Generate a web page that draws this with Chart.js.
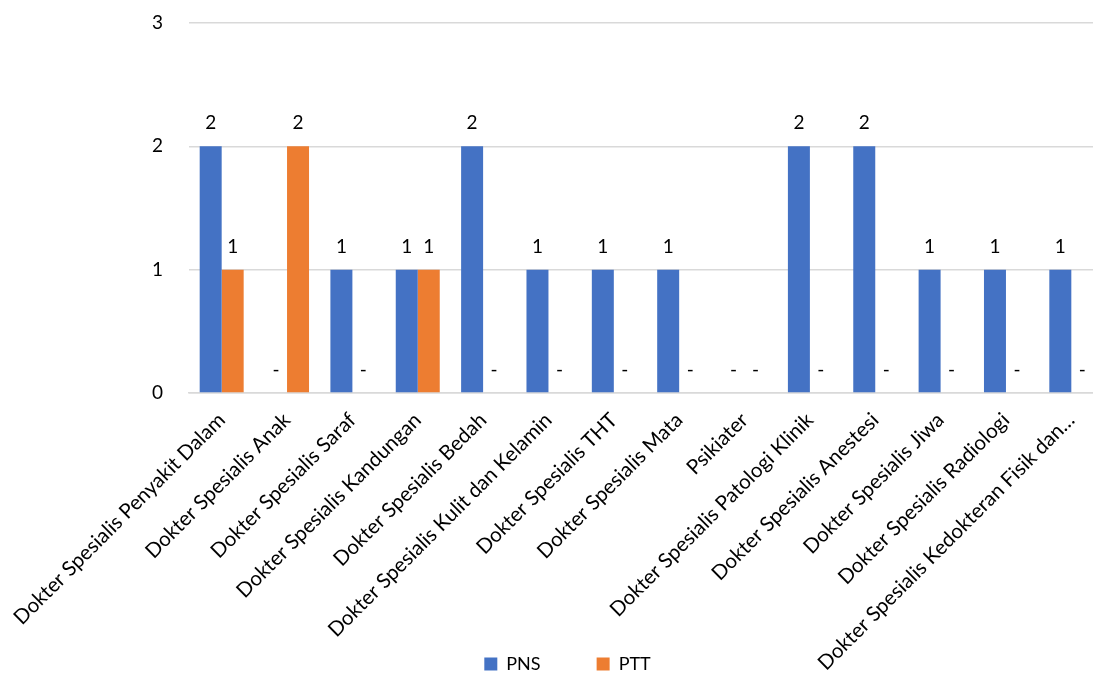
<!DOCTYPE html>
<html>
<head>
<meta charset="utf-8">
<script src="https://cdn.jsdelivr.net/npm/chart.js@4/dist/chart.umd.min.js"></script>
<style>
  html, body { margin: 0; padding: 0; background: #fff; overflow: hidden; }
  /* the plot runs a little past the right edge, like the excel export */
  #wrap { width: 1104px; height: 673px; }
</style>
</head>
<body>
<div id="wrap"><canvas id="chart"></canvas></div>
<script>
var categories = ["Dokter Spesialis Penyakit Dalam", "Dokter Spesialis Anak", "Dokter Spesialis Saraf",
  "Dokter Spesialis Kandungan", "Dokter Spesialis Bedah", "Dokter Spesialis Kulit dan Kelamin",
  "Dokter Spesialis THT", "Dokter Spesialis Mata", "Psikiater", "Dokter Spesialis Patologi Klinik",
  "Dokter Spesialis Anestesi", "Dokter Spesialis Jiwa", "Dokter Spesialis Radiologi",
  "Dokter Spesialis Kedokteran Fisik dan\u2026"];
var pns = [2, 0, 1, 1, 2, 1, 1, 1, 0, 2, 2, 1, 1, 1];
var ptt = [1, 2, 0, 1, 0, 0, 0, 0, 0, 0, 0, 0, 0, 0];
var yTicks = [0, 1, 2, 3];

var FONT = "Lato, 'Open Sans', sans-serif";

// labels above bars, zeros shown as "-" like excel accounting format
var valueLabels = {
  id: 'valueLabels',
  afterDatasetsDraw: function(chart) {
    var ctx = chart.ctx;
    ctx.save();
    ctx.font = '19px ' + FONT;
    ctx.fillStyle = '#000';
    ctx.textAlign = 'center';
    ctx.textBaseline = 'middle';
    chart.data.datasets.forEach(function(ds, i) {
      var meta = chart.getDatasetMeta(i);
      meta.data.forEach(function(bar, j) {
        var v = ds.data[j];
        var txt = v === 0 ? '-' : String(v);
        ctx.fillText(txt, bar.x, bar.y - 23);
      });
    });
    ctx.restore();
  }
};

// legend sits lower and a bit right of centre, and long x labels run into the legend row
var layoutTweaks = {
  id: 'layoutTweaks',
  afterLayout: function(chart) {
    chart.legend.left += 31;
    chart.legend.top += 10;
    chart.scales.x._computeLabelArea = function() { return undefined; };
  }
};

new Chart(document.getElementById('chart').getContext('2d'), {
  type: 'bar',
  data: {
    labels: categories,
    datasets: [
      { label: 'PNS', data: pns, backgroundColor: '#4472C4' },
      { label: 'PTT', data: ptt, backgroundColor: '#ED7D31' }
    ]
  },
  options: {
    responsive: true,
    maintainAspectRatio: false,
    animation: false,
    datasets: { bar: { categoryPercentage: 0.673, barPercentage: 1 } },
    layout: { padding: { top: 23, right: 0, left: 0, bottom: 0 } },
    plugins: {
      tooltip: { enabled: false },
      legend: {
        position: 'bottom',
        labels: {
          font: { family: FONT, size: 18 },
          color: '#000',
          boxWidth: 13,
          boxHeight: 13,
          padding: 2,
          generateLabels: function(chart) {
            var items = Chart.defaults.plugins.legend.labels.generateLabels(chart);
            items[0].text = items[0].text + '\u2003\u2003\u2003\u2003';
            return items;
          }
        }
      }
    },
    scales: {
      x: {
        grid: { display: false },
        border: { color: '#D9D9D9', width: 1.5 },
        ticks: {
          minRotation: 45, maxRotation: 45, autoSkip: false,
          color: '#000', font: { family: FONT, size: 20.5 }, padding: 7
        },
        afterFit: function(scale) {
          scale.height = 250;
          scale.paddingLeft = 0; // first label may hang into the y axis area
        }
      },
      y: {
        min: 0, max: 3,
        afterBuildTicks: function(scale) { scale.ticks = yTicks.map(function(v) { return { value: v }; }); },
        grid: { color: '#D9D9D9', lineWidth: 1.5, drawTicks: true, tickLength: 22, tickColor: 'rgba(0,0,0,0)' },
        border: { display: false },
        ticks: { color: '#000', font: { family: FONT, size: 19 }, padding: 4 },
        afterFit: function(scale) { scale.width = 189; }
      }
    }
  },
  plugins: [valueLabels, layoutTweaks]
});
</script>
</body>
</html>
